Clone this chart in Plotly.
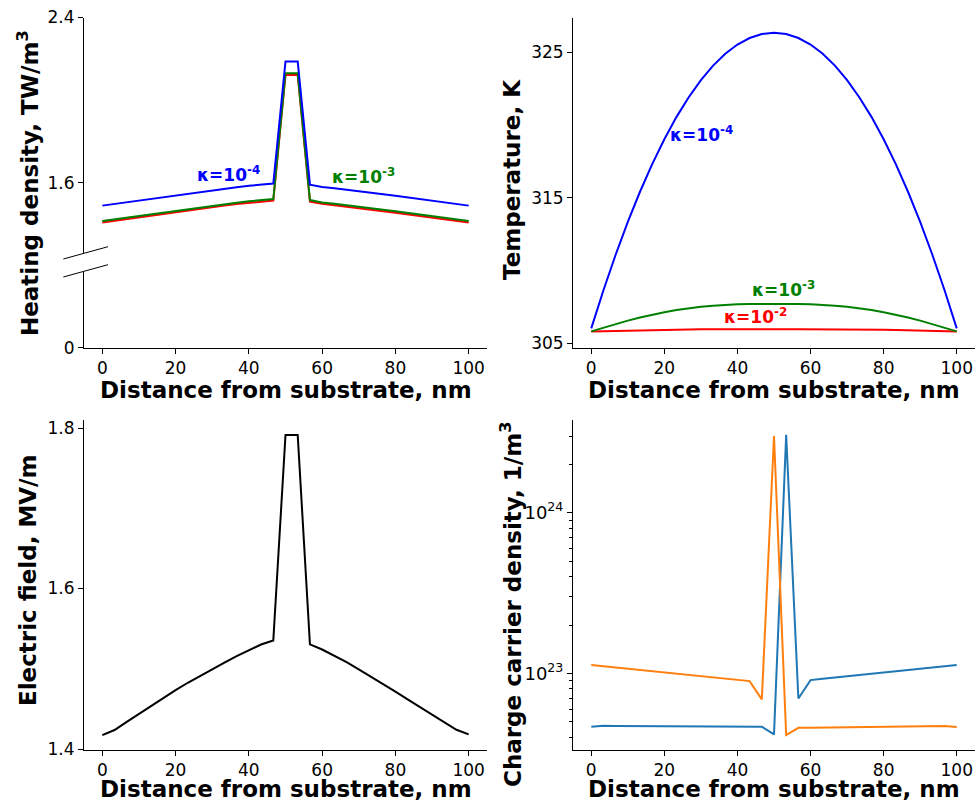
import plotly.graph_objects as go

# ---------------- data ----------------
X_NM = [0, 3.33, 6.67, 10, 13.33, 16.67, 20, 23.33, 26.67, 30, 33.33, 36.67, 40, 43.33, 46.67,
        50, 53.33, 56.67, 60, 63.33, 66.67, 70, 73.33, 76.67, 80, 83.33, 86.67, 90, 93.33, 96.67, 100]

HEAT_K4 = [1.4885, 1.4967, 1.5056, 1.5145, 1.5233, 1.5321, 1.5405, 1.5487, 1.5563, 1.5638, 1.5709,
           1.5780, 1.5846, 1.5908, 1.5952, 2.1867, 2.1867, 1.5903, 1.5792, 1.5728, 1.5662, 1.5587,
           1.5513, 1.5436, 1.5359, 1.5280, 1.5200, 1.5120, 1.5038, 1.4967, 1.4885]
HEAT_K3 = [1.4135, 1.4217, 1.4306, 1.4395, 1.4483, 1.4571, 1.4655, 1.4737, 1.4813, 1.4888, 1.4959,
           1.5030, 1.5096, 1.5158, 1.5202, 2.1300, 2.1300, 1.5153, 1.5042, 1.4978, 1.4912, 1.4837,
           1.4763, 1.4686, 1.4609, 1.4530, 1.4450, 1.4370, 1.4288, 1.4217, 1.4135]
HEAT_K2 = [1.4065, 1.4147, 1.4236, 1.4325, 1.4413, 1.4501, 1.4585, 1.4667, 1.4743, 1.4818, 1.4889,
           1.4960, 1.5026, 1.5088, 1.5132, 2.1220, 2.1220, 1.5083, 1.4972, 1.4908, 1.4842, 1.4767,
           1.4693, 1.4616, 1.4539, 1.4460, 1.4380, 1.4300, 1.4218, 1.4147, 1.4065]

TEMP_K4 = [306.03, 308.65, 311.09, 313.35, 315.42, 317.32, 319.03, 320.57, 321.92, 323.10, 324.09,
           324.91, 325.54, 325.99, 326.26, 326.35, 326.26, 325.99, 325.54, 324.91, 324.09, 323.10,
           321.92, 320.57, 319.03, 317.32, 315.42, 313.35, 311.09, 308.65, 306.03]
TEMP_K3 = [305.82, 306.08, 306.33, 306.56, 306.78, 306.97, 307.14, 307.29, 307.41, 307.51, 307.59,
           307.65, 307.69, 307.71, 307.72, 307.72, 307.72, 307.71, 307.69, 307.65, 307.59, 307.51,
           307.41, 307.29, 307.14, 306.97, 306.78, 306.56, 306.33, 306.08, 305.82]
TEMP_K2 = [305.82, 305.84, 305.86, 305.88, 305.90, 305.91, 305.93, 305.94, 305.95, 305.96, 305.96,
           305.97, 305.97, 305.97, 305.97, 305.97, 305.97, 305.97, 305.97, 305.97, 305.96, 305.96,
           305.95, 305.94, 305.93, 305.91, 305.90, 305.88, 305.86, 305.84, 305.82]

E_FIELD = [1.4174, 1.4237, 1.4338, 1.4439, 1.4538, 1.4638, 1.4733, 1.4826, 1.4912, 1.4996, 1.5077,
           1.5157, 1.5232, 1.5302, 1.5352, 1.7913, 1.7913, 1.5304, 1.5240, 1.5163, 1.5083, 1.4992,
           1.4902, 1.4808, 1.4715, 1.4620, 1.4523, 1.4425, 1.4326, 1.4240, 1.4183]

CARRIER_1 = [4.66e22, 4.72e22, 4.71e22, 4.71e22, 4.70e22, 4.70e22, 4.69e22, 4.69e22, 4.69e22, 4.68e22,
             4.68e22, 4.68e22, 4.68e22, 4.68e22, 4.66e22, 4.17e22, 3.05e24, 6.98e22, 9.08e22, 9.25e22,
             9.42e22, 9.58e22, 9.75e22, 9.93e22, 1.012e23, 1.030e23, 1.049e23, 1.067e23, 1.087e23,
             1.107e23, 1.127e23]
CARRIER_2 = [1.127e23, 1.107e23, 1.088e23, 1.068e23, 1.049e23, 1.031e23, 1.012e23, 9.95e22, 9.77e22,
             9.60e22, 9.43e22, 9.27e22, 9.10e22, 8.95e22, 6.89e22, 3.00e24, 4.13e22, 4.58e22, 4.59e22,
             4.60e22, 4.61e22, 4.62e22, 4.63e22, 4.64e22, 4.65e22, 4.66e22, 4.67e22, 4.68e22, 4.69e22,
             4.70e22, 4.63e22]

X_TICKS = [0, 20, 40, 60, 80, 100]
HEAT_TICKS_TOP = [1.6, 2.4]
HEAT_TICKS_BOTTOM = [0]
TEMP_TICKS = [305, 315, 325]
FIELD_TICKS = [1.4, 1.6, 1.8]
CARRIER_MAJOR = [1e23, 1e24]
CARRIER_MAJOR_TEXT = ["10<sup>23</sup>", "10<sup>24</sup>"]
CARRIER_MINOR = [4e22, 5e22, 6e22, 7e22, 8e22, 9e22, 2e23, 3e23, 4e23, 5e23, 6e23, 7e23, 8e23, 9e23,
                 2e24, 3e24]

BLUE, GREEN, RED = "#0000ff", "#008000", "#ff0000"
C0, C1 = "#1f77b4", "#ff7f0e"

W, H = 976, 801
FONT = "DejaVu Sans"


def px(xp):
    return xp / W


def py(yp):
    return 1 - yp / H


fig = go.Figure()
LW = 2
# empty trace that creates the lower (broken) part of the heating-density panel
fig.add_trace(go.Scatter(x=[None], y=[None], mode="lines", xaxis="x", yaxis="y",
                         hoverinfo="skip", showlegend=False))
# top-left: heating density (x, y2)
fig.add_trace(go.Scatter(x=X_NM, y=HEAT_K2, mode="lines", line=dict(color=RED, width=LW), xaxis="x", yaxis="y2"))
fig.add_trace(go.Scatter(x=X_NM, y=HEAT_K3, mode="lines", line=dict(color=GREEN, width=LW), xaxis="x", yaxis="y2"))
fig.add_trace(go.Scatter(x=X_NM, y=HEAT_K4, mode="lines", line=dict(color=BLUE, width=LW), xaxis="x", yaxis="y2"))
# top-right: temperature (x2, y3)
fig.add_trace(go.Scatter(x=X_NM, y=TEMP_K2, mode="lines", line=dict(color=RED, width=LW), xaxis="x2", yaxis="y3"))
fig.add_trace(go.Scatter(x=X_NM, y=TEMP_K3, mode="lines", line=dict(color=GREEN, width=LW), xaxis="x2", yaxis="y3"))
fig.add_trace(go.Scatter(x=X_NM, y=TEMP_K4, mode="lines", line=dict(color=BLUE, width=LW), xaxis="x2", yaxis="y3"))
# bottom-left: electric field (x3, y4)
fig.add_trace(go.Scatter(x=X_NM, y=E_FIELD, mode="lines", line=dict(color="black", width=LW), xaxis="x3", yaxis="y4"))
# bottom-right: carrier density (x4, y5)
fig.add_trace(go.Scatter(x=X_NM, y=CARRIER_1, mode="lines", line=dict(color=C0, width=LW), xaxis="x4", yaxis="y5"))
fig.add_trace(go.Scatter(x=X_NM, y=CARRIER_2, mode="lines", line=dict(color=C1, width=LW), xaxis="x4", yaxis="y5"))

tickfont = dict(family=FONT, size=17, color="black")
common = dict(showline=True, linecolor="black", linewidth=1, ticks="outside", ticklen=5, tickwidth=1,
              tickcolor="black", showgrid=False, zeroline=False, automargin=False)

XL = [px(84), px(487)]
XR = [px(573), px(975)]
TOP = [py(347.7), py(17.5)]
BOT = [py(750), py(420)]

layout = dict(
    width=W, height=H, margin=dict(l=0, r=0, t=0, b=0),
    paper_bgcolor="white", plot_bgcolor="white", showlegend=False, hovermode=False,
    font=dict(family=FONT, color="black"),
    xaxis=dict(domain=XL, anchor="y", range=[-5, 105], tickvals=X_TICKS, tickfont=tickfont, **common),
    yaxis=dict(domain=[py(347.7), py(272)], anchor="x", range=[0, 0.37], tickvals=HEAT_TICKS_BOTTOM,
               tickfont=tickfont, **common),
    yaxis2=dict(domain=[py(253), py(17.5)], anchor="x", range=[1.259, 2.4], tickvals=HEAT_TICKS_TOP,
                tickfont=tickfont, **common),
    xaxis2=dict(domain=XR, anchor="y3", range=[-5, 105], tickvals=X_TICKS, tickfont=tickfont, **common),
    yaxis3=dict(domain=TOP, anchor="x2", range=[304.7, 327.4], tickvals=TEMP_TICKS, tickfont=tickfont, **common),
    xaxis3=dict(domain=XL, anchor="y4", range=[-5, 105], tickvals=X_TICKS, tickfont=tickfont, **common),
    yaxis4=dict(domain=BOT, anchor="x3", range=[1.3988, 1.81], tickvals=FIELD_TICKS, tickfont=tickfont, **common),
    xaxis4=dict(domain=XR, anchor="y5", range=[-5, 105], tickvals=X_TICKS, tickfont=tickfont, **common),
    yaxis5=dict(domain=BOT, anchor="x4", type="log", range=[22.523, 24.577],
                tickmode="array", tickvals=CARRIER_MAJOR, ticktext=CARRIER_MAJOR_TEXT,
                tickfont=dict(family=FONT, size=18, color="black"),
                minor=dict(tickmode="array", tickvals=CARRIER_MINOR, ticks="outside", ticklen=3,
                           tickwidth=1, tickcolor="black", showgrid=False),
                **common),
)
fig.update_layout(**layout)

# broken-axis marks on the heating-density panel
for yc in (253, 271):
    fig.add_shape(type="line", xref="paper", yref="paper",
                  x0=px(63.3), y0=py(yc + 6), x1=px(108), y1=py(yc - 6.3),
                  line=dict(color="black", width=1))

title_font = dict(family=FONT, size=23, color="black", weight="bold")
ann = []
# x titles
for xc, yc in (((84 + 487) / 2, 390), ((573 + 975) / 2, 390), ((84 + 487) / 2, 789), ((573 + 975) / 2, 789)):
    ann.append(dict(text="Distance from substrate, nm", x=px(xc), y=py(yc), xref="paper", yref="paper",
                    xanchor="center", yanchor="middle", showarrow=False, font=title_font))
# y titles
for txt, xc, yc in (("Heating density, TW/m<sup>3</sup>", 28, 183),
                    ("Temperature, K", 512, 180),
                    ("Electric field, MV/m", 28, 581),
                    ("Charge carrier density, 1/m<sup>3</sup>", 511, 605)):
    ann.append(dict(text=txt, x=px(xc), y=py(yc), xref="paper", yref="paper", textangle=-90,
                    xanchor="center", yanchor="middle", showarrow=False, font=title_font))

lab_font = lambda c: dict(family=FONT, size=17, color=c, weight="bold")
for txt, c, xr, yr, xv, yv in (("κ=10<sup>-4</sup>", BLUE, "x", "y2", 34.4, 1.644),
                               ("κ=10<sup>-3</sup>", GREEN, "x", "y2", 71.3, 1.634),
                               ("κ=10<sup>-4</sup>", BLUE, "x2", "y3", 30.2, 319.42),
                               ("κ=10<sup>-3</sup>", GREEN, "x2", "y3", 52.7, 308.75),
                               ("κ=10<sup>-2</sup>", RED, "x2", "y3", 45.0, 306.89)):
    ann.append(dict(text=txt, x=xv, y=yv, xref=xr, yref=yr, xanchor="center", yanchor="middle",
                    showarrow=False, font=lab_font(c)))

fig.update_layout(annotations=ann)
fig.write_html("out.html")
